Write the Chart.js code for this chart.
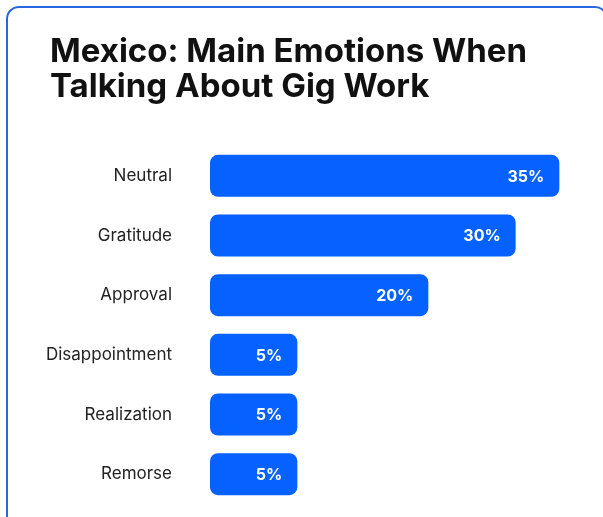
<!DOCTYPE html>
<html>
<head>
<meta charset="utf-8">
<script src="https://cdn.jsdelivr.net/npm/chart.js@4"></script>
<style>
    html, body { margin: 0; padding: 0; background: #fff; }
    body { width: 603px; height: 517px; overflow: hidden; position: relative; }
    .card {
        position: absolute;
        left: 6px;
        top: 6px;
        width: 598px;
        height: 560px;
        border: 2px solid #2a66de;
        border-radius: 13px;
    }
    #emotionsChart { position: absolute; left: 0; top: 0; }
    h1 {
        position: absolute;
        left: 50px;
        top: 33px;
        margin: 0;
        font-family: Inter, sans-serif;
        font-size: 33px;
        font-weight: 700;
        line-height: 35px;
        color: #111;
        z-index: 2;
    }
</style>
</head>
<body>
<div class="card"></div>
<h1 id="chartTitle"></h1>
<canvas id="emotionsChart" width="603" height="517"></canvas>
<script>
// Main emotions (Mexico) - share of mentions
const titleLines = ['Mexico: Main Emotions When', 'Talking About Gig Work'];
const emotions = ['Neutral', 'Gratitude', 'Approval', 'Disappointment', 'Realization', 'Remorse'];
const shares = [35, 30, 20, 5, 5, 5];

const barColor = '#0561ff';
const axisMin = -5;

document.getElementById('chartTitle').innerHTML = titleLines.join('<br>');

// Draw the percentage inside the end of each bar
const valueLabels = {
    id: 'valueLabels',
    afterDatasetsDraw(chart) {
        const ctx = chart.ctx;
        const meta = chart.getDatasetMeta(0);
        ctx.save();
        ctx.fillStyle = '#ffffff';
        ctx.font = '700 16px Inter, sans-serif';
        ctx.textAlign = 'right';
        ctx.textBaseline = 'middle';
        meta.data.forEach((bar, i) => {
            ctx.fillText(shares[i] + '%', bar.x - 15, bar.y + 1);
        });
        ctx.restore();
    }
};

new Chart(document.getElementById('emotionsChart'), {
    type: 'bar',
    data: {
        labels: emotions,
        datasets: [{
            data: shares,
            base: axisMin,
            backgroundColor: barColor,
            borderRadius: 8,
            borderSkipped: false,
            categoryPercentage: 1,
            barPercentage: 0.705
        }]
    },
    options: {
        indexAxis: 'y',
        responsive: false,
        animation: false,
        layout: {
            padding: { left: 30, right: 0, top: 146, bottom: 13 }
        },
        plugins: {
            legend: { display: false },
            tooltip: { enabled: false },
            title: { display: false }
        },
        scales: {
            x: {
                display: false,
                min: axisMin,
                max: 40
            },
            y: {
                grid: { display: false, drawTicks: false },
                border: { display: false },
                afterFit(scale) {
                    scale.width = 180;
                    // tick padding should only push labels sideways
                    scale.paddingTop = 0;
                    scale.paddingBottom = 0;
                },
                ticks: {
                    color: '#222222',
                    padding: 38,
                    font: { family: 'Inter, sans-serif', size: 17 }
                }
            }
        }
    },
    plugins: [valueLabels]
});
</script>
</body>
</html>
